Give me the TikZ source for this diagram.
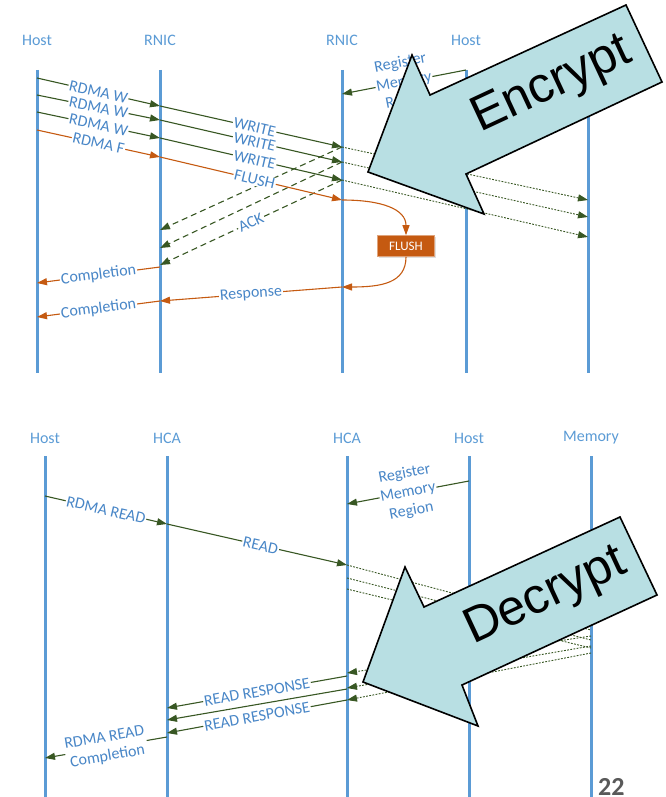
\documentclass[tikz,border=0pt]{standalone}
\usepackage{fontspec}
\setmainfont{Carlito}
\newfontfamily\arrowfont{Liberation Sans}
\usetikzlibrary{arrows.meta,shadows}
\definecolor{lineblue}{RGB}{91,155,213}
\definecolor{txtblue}{RGB}{72,134,199}
\definecolor{msggreen}{RGB}{56,87,35}
\definecolor{msgorange}{RGB}{197,90,17}
\definecolor{bigcyan}{RGB}{184,223,227}
\definecolor{pagegray}{RGB}{89,89,89}
\tikzset{
  lline/.style   ={line width=3pt,lineblue},
  hdr/.style     ={text=lineblue,inner sep=1pt,font=\fontsize{16}{19}\selectfont},
  mlab/.style    ={sloped,fill=white,inner sep=1pt,text=txtblue,font=\fontsize{16}{19}\selectfont},
  msg/.style     ={line width=1.1pt,-{Triangle[length=10pt,width=7pt]}},
  garr/.style    ={msg,msggreen},
  oarr/.style    ={msg,msgorange},
  dotline/.style ={msggreen,line width=0.9pt,dash pattern=on 1.8pt off 1.4pt},
  dotarr/.style  ={garr,line width=0.9pt,dash pattern=on 1.8pt off 1.4pt},
  ackarr/.style  ={garr,dash pattern=on 6pt off 4pt},
  flushbox/.style={fill=msgorange,draw=msgorange!55!white,line width=0.6pt,text=white,
                   minimum width=57pt,minimum height=21pt,inner sep=0pt,
                   font=\fontsize{13}{15}\selectfont,
                   drop shadow={opacity=0.25,shadow xshift=1pt,shadow yshift=-1pt}},
  bigarrow/.style={fill=bigcyan,draw=black,line width=1.6pt,line join=miter},
  bigtxt/.style  ={rotate=25,inner sep=0pt,font=\arrowfont\fontsize{50}{60}\selectfont},
}
% name, x, header y, top, bottom, header text
\newcommand{\lifeline}[6]{%
  \node[hdr] (#1) at (#2,#3) {#6};
  \coordinate (#1t) at (#2,#4);
  \coordinate (#1b) at (#2,#5);
  \draw[lline] (#1t) -- (#1b);
}

\begin{document}
\begin{tikzpicture}[x=1pt,y=-1pt]
  \useasboundingbox (0,0) rectangle (665,797);
  % upper diagram
  \lifeline{hA}{37}{40}{70}{373}{Host}
  \lifeline{rA}{160}{40}{70}{373}{RNIC}
  \lifeline{rB}{342}{40}{70}{373}{RNIC}
  \lifeline{hB}{466}{40}{70}{373}{Host}
  \coordinate (mAt) at (588,70); \coordinate (mAb) at (588,373);
  \draw[lline] (mAt) -- (mAb);

  \coordinate (regAs) at (466,70); \coordinate (regAe) at (342,94);
  \draw[garr] (regAs) -- node[mlab,align=center]{Register\\Memory\\Region} (regAe);

  \foreach \i/\ya/\yb in {1/147/230, 2/162/248, 3/180/265}{
    \coordinate (aks\i) at (342,\ya); \coordinate (ake\i) at (160,\yb);
  }
  \draw[ackarr] (aks1) -- (ake1);
  \draw[ackarr] (aks2) -- (ake2);
  \draw[ackarr] (aks3) -- node[mlab]{ACK} (ake3);

  \foreach \i/\ya/\yb/\yc/\yd in {1/78/106/147/200, 2/95/120/162/217, 3/112/138/180/237}{
    \coordinate (hw\i) at (37,\ya); \coordinate (rw\i) at (160,\yb);
    \coordinate (nw\i) at (342,\yc); \coordinate (mw\i) at (588,\yd);
    \draw[garr] (hw\i) -- node[mlab]{RDMA W} (rw\i);
    \draw[garr] (rw\i) -- node[mlab,pos=0.52]{WRITE} (nw\i);
    \draw[dotarr] (nw\i) -- (mw\i);
  }

  \coordinate (hf) at (37,130); \coordinate (rf) at (160,157); \coordinate (nf) at (342,200);
  \draw[oarr] (hf) -- node[mlab]{RDMA F} (rf);
  \draw[oarr] (rf) -- node[mlab,pos=0.52]{FLUSH} (nf);
  \node[flushbox] (fbox) at (406,246) {FLUSH};
  \coordinate (nr) at (342,287); \coordinate (rr) at (160,301); \coordinate (hr) at (37,317);
  \coordinate (rc) at (160,267); \coordinate (hc) at (37,283);
  \draw[oarr] (nf) .. controls +(40,0) and +(0,-26) .. (fbox.north);
  \draw[oarr] (fbox.south) .. controls +(0,26) and +(40,0) .. (nr);
  \draw[oarr] (rc) -- node[mlab]{Completion} (hc);
  \draw[oarr] (nr) -- node[mlab]{Response} (rr);
  \draw[oarr] (rr) -- node[mlab]{Completion} (hr);

  \draw[bigarrow] (368,172) -- (412,55) -- (430,95) -- (626,5) -- (662,82)
                  -- (466,174) -- (484,214) -- cycle;
  \node[bigtxt] (enc) at (552,86) {Encrypt};

  % lower diagram
  \lifeline{hC}{45}{438}{456}{800}{Host}
  \lifeline{cA}{167}{438}{456}{800}{HCA}
  \lifeline{cB}{347}{438}{456}{800}{HCA}
  \lifeline{hD}{469}{438}{456}{800}{Host}
  \lifeline{mB}{591}{438}{456}{800}{Memory}

  \coordinate (regBs) at (469,481); \coordinate (regBe) at (347,504);
  \draw[garr] (regBs) -- node[mlab,align=center]{Register\\Memory\\Region} (regBe);

  \coordinate (hq) at (45,496); \coordinate (cq) at (167,524); \coordinate (dq) at (347,565);
  \draw[garr] (hq) -- node[mlab]{RDMA READ} (cq);
  \draw[garr] (cq) -- node[mlab,pos=0.52]{READ} (dq);

  \foreach \i/\ya/\yb/\yc/\yd in {1/565/630/636/673, 2/578/640/646/688, 3/589/648/653/700}{
    \coordinate (dqs\i) at (347,\ya); \coordinate (mqe\i) at (591,\yb);
    \coordinate (mps\i) at (591,\yc); \coordinate (dpe\i) at (347,\yd);
    \draw[dotline] (dqs\i) -- (mqe\i);
    \draw[dotarr] (mps\i) -- (dpe\i);
  }

  \coordinate (dp1) at (347,676); \coordinate (cp1) at (167,708);
  \coordinate (dp2) at (347,689); \coordinate (cp2) at (167,720);
  \coordinate (dp3) at (347,700); \coordinate (cp3) at (167,733);
  \draw[garr] (dp1) -- node[mlab]{READ RESPONSE} (cp1);
  \draw[garr] (dp2) -- (cp2);
  \draw[garr] (dp3) -- node[mlab]{READ RESPONSE} (cp3);
  \coordinate (cc) at (167,737); \coordinate (hcc) at (45,758);
  \draw[garr] (cc) -- node[mlab,align=center]{RDMA READ\\Completion} (hcc);

  \draw[bigarrow] (363,682) -- (405,567) -- (424,607) -- (620,517) -- (657,595)
                  -- (462,685) -- (478,726) -- cycle;
  \node[bigtxt] (dec) at (546,597) {Decrypt};

  \node[anchor=base west,inner sep=0pt,text=pagegray,font=\bfseries\fontsize{26}{30}\selectfont]
    (pgno) at (598,795) {22};
\end{tikzpicture}
\end{document}
